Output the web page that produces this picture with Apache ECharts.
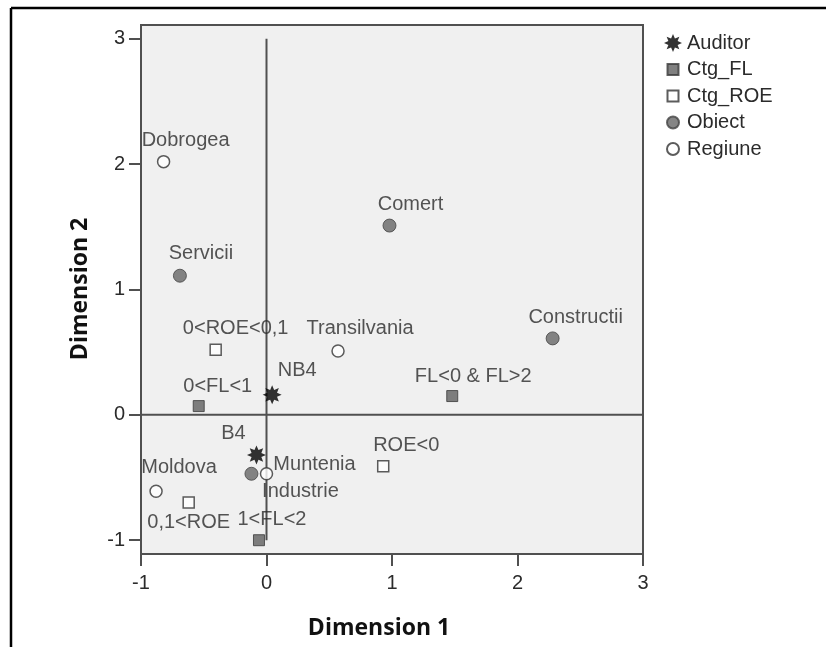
<!DOCTYPE html>
<html>
<head>
<meta charset="utf-8">
<script src="https://cdn.jsdelivr.net/npm/echarts@6/dist/echarts.min.js"></script>
<style>
  html, body { margin: 0; padding: 0; background: #fff; }
  #chart { width: 826px; height: 647px; }
</style>
</head>
<body>
<div id="chart"></div>
<script>
// Joint category plot: object scores on two dimensions
const auditorNames = ['NB4', 'B4'];
const auditorDim1  = [0.045, -0.08];
const auditorDim2  = [0.16, -0.32];

const flNames = ['0<FL<1', '1<FL<2', 'FL<0 & FL>2'];
const flDim1  = [-0.54, -0.06, 1.48];
const flDim2  = [0.07, -1.0, 0.15];

const roeNames = ['0<ROE<0,1', 'ROE<0', '0,1<ROE'];
const roeDim1  = [-0.405, 0.93, -0.62];
const roeDim2  = [0.52, -0.41, -0.70];

const obiectNames = ['Comert', 'Constructii', 'Servicii', 'Industrie'];
const obiectDim1  = [0.98, 2.28, -0.69, -0.12];
const obiectDim2  = [1.51, 0.61, 1.11, -0.47];

const regiuneNames = ['Dobrogea', 'Transilvania', 'Muntenia', 'Moldova'];
const regiuneDim1  = [-0.82, 0.57, 0.0, -0.88];
const regiuneDim2  = [2.02, 0.51, -0.47, -0.61];

const axisTicks = [-1, 0, 1, 2, 3];

// label placement (pixel offset of the label centre from the point)
const defaultLabelOffset = [22, -21];
const labelOffsets = {
  'NB4': [25, -24],
  'B4': [-23, -21],
  '0<FL<1': [19, -20],
  '1<FL<2': [13, -21],
  'FL<0 & FL>2': [21, -20],
  '0<ROE<0,1': [20, -21],
  'ROE<0': [23, -21],
  '0,1<ROE': [0, 20],
  'Comert': [21, -21],
  'Constructii': [23, -21],
  'Servicii': [21, -22],
  'Industrie': [49, 18],
  'Dobrogea': [22, -21],
  'Transilvania': [22, -22],
  'Muntenia': [48, -9],
  'Moldova': [23, -24]
};

function burstPath(n, rOut, rIn, cx, cy) {
  let d = '';
  for (let k = 0; k < 2 * n; k++) {
    const r = k % 2 ? rIn : rOut;
    const a = Math.PI * k / n - Math.PI / 2;
    d += (k ? 'L' : 'M') + (cx + r * Math.cos(a)).toFixed(2) + ',' + (cy + r * Math.sin(a)).toFixed(2);
  }
  return d + 'Z';
}
const starSymbol = 'path://' + burstPath(8, 9, 5, 9, 9);
// legend icons inside an 18x18 box so each keeps its own size
const box = 'M0,0M18,18';
const squareIcon = 'path://' + box + 'M3.5,3.5L14.5,3.5L14.5,14.5L3.5,14.5Z';
const circleIcon = 'path://' + box + 'M3,9A6,6 0 1,0 15,9A6,6 0 1,0 3,9Z';

function points(names, d1, d2) {
  return names.map((n, i) => ({
    name: n,
    value: [d1[i], d2[i]],
    label: { offset: labelOffsets[n] || defaultLabelOffset }
  }));
}

const textFont = '"Liberation Sans", Arial, sans-serif';
const textColor = '#2b2b2b';
const lineColor = '#505050';

const labelStyle = {
  show: true,
  position: 'inside',
  formatter: '{b}',
  color: textColor,
  fontSize: 20,
  fontFamily: textFont,
  align: 'center',
  verticalAlign: 'middle'
};

const chart = echarts.init(document.getElementById('chart'), null, { renderer: 'canvas' });

const axisCommon = {
  type: 'value',
  axisLine: { show: true, onZero: false, lineStyle: { color: lineColor, width: 2 } },
  axisTick: { show: true, length: 12, customValues: axisTicks, lineStyle: { color: lineColor, width: 2 } },
  axisLabel: {
    customValues: axisTicks,
    color: textColor,
    fontSize: 20,
    fontFamily: textFont
  },
  splitLine: { show: false }
};

chart.setOption({
  animation: false,
  backgroundColor: '#fff',
  grid: {
    left: 141, right: 183, top: 25, bottom: 93,
    show: true,
    backgroundColor: '#f0f0f0',
    borderColor: lineColor,
    borderWidth: 2,
    containLabel: false
  },
  xAxis: Object.assign({}, axisCommon, {
    min: -1, max: 3,
    axisLabel: Object.assign({}, axisCommon.axisLabel, { margin: 19 })
  }),
  yAxis: Object.assign({}, axisCommon, {
    min: -1.11, max: 3.11,
    axisLabel: Object.assign({}, axisCommon.axisLabel, { margin: 16 })
  }),
  legend: {
    orient: 'vertical',
    left: 658,
    top: 28,
    itemWidth: 18,
    itemHeight: 18,
    itemGap: 6.5,
    textStyle: { color: textColor, fontSize: 20, lineHeight: 20, fontFamily: textFont },
    data: [
      { name: 'Auditor', icon: starSymbol },
      { name: 'Ctg_FL', icon: squareIcon },
      { name: 'Ctg_ROE', icon: squareIcon },
      { name: 'Obiect', icon: circleIcon },
      { name: 'Regiune', icon: circleIcon }
    ]
  },
  graphic: [
    { type: 'line', shape: { x1: 11, y1: 8, x2: 826, y2: 8 }, style: { stroke: '#000', lineWidth: 2.5 } },
    { type: 'line', shape: { x1: 11, y1: 8, x2: 11, y2: 647 }, style: { stroke: '#000', lineWidth: 2.5 } },
    {
      type: 'text', x: 379, y: 628,
      style: { text: 'Dimension 1', font: 'bold 23px "Open Sans", sans-serif', fill: '#111', align: 'center', verticalAlign: 'middle' }
    },
    {
      type: 'text', x: 80, y: 289, rotation: Math.PI / 2,
      style: { text: 'Dimension 2', font: 'bold 23px "Open Sans", sans-serif', fill: '#111', align: 'center', verticalAlign: 'middle' }
    }
  ],
  series: [
    {
      name: 'ref-v', type: 'line', silent: true, symbol: 'none', z: 1,
      data: [[0, -1], [0, 3]],
      lineStyle: { color: lineColor, width: 2 }
    },
    {
      name: 'ref-h', type: 'line', silent: true, symbol: 'none', z: 1,
      data: [[-1, 0], [3, 0]],
      lineStyle: { color: lineColor, width: 2 }
    },
    {
      name: 'Auditor', type: 'scatter', z: 3,
      symbol: starSymbol, symbolSize: 19,
      itemStyle: { color: '#000' },
      label: labelStyle,
      data: points(auditorNames, auditorDim1, auditorDim2)
    },
    {
      name: 'Ctg_FL', type: 'scatter', z: 3,
      symbol: 'rect', symbolSize: 11,
      itemStyle: { color: '#606060', borderColor: '#3a3a3a', borderWidth: 1 },
      label: labelStyle,
      data: points(flNames, flDim1, flDim2)
    },
    {
      name: 'Ctg_ROE', type: 'scatter', z: 3,
      symbol: 'rect', symbolSize: 11,
      itemStyle: { color: '#fff', borderColor: '#333', borderWidth: 1.5 },
      label: labelStyle,
      data: points(roeNames, roeDim1, roeDim2)
    },
    {
      name: 'Obiect', type: 'scatter', z: 3,
      symbol: 'circle', symbolSize: 13,
      itemStyle: { color: '#666', borderColor: '#444', borderWidth: 1 },
      label: labelStyle,
      data: points(obiectNames, obiectDim1, obiectDim2)
    },
    {
      name: 'Regiune', type: 'scatter', z: 3,
      symbol: 'circle', symbolSize: 12,
      itemStyle: { color: '#fff', borderColor: '#333', borderWidth: 1.5 },
      label: labelStyle,
      data: points(regiuneNames, regiuneDim1, regiuneDim2)
    }
  ]
});
</script>
</body>
</html>
